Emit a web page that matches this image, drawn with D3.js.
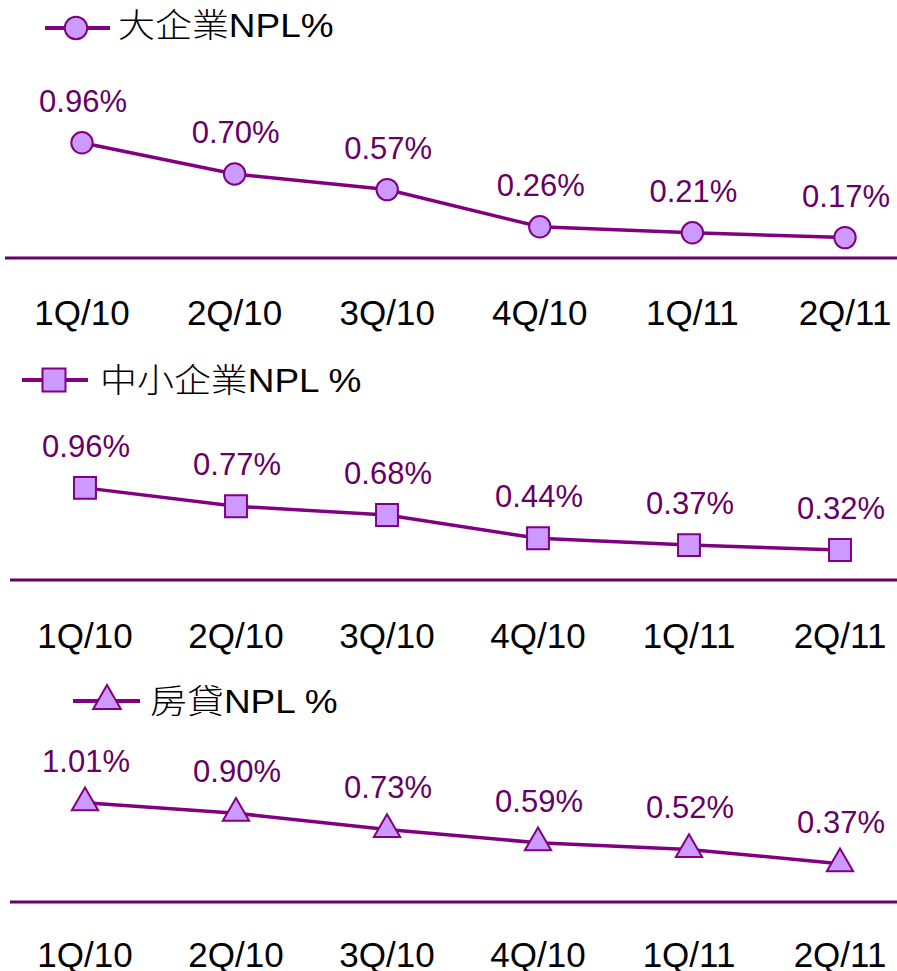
<!DOCTYPE html>
<html>
<head>
<meta charset="utf-8">
<script src="https://cdn.jsdelivr.net/npm/d3@7"></script>
<style>
  body { margin: 0; background: #fff; }
  svg { display: block; }
</style>
</head>
<body>
<svg id="chart"></svg>
<script>
const quarters = ['1Q/10', '2Q/10', '3Q/10', '4Q/10', '1Q/11', '2Q/11'];

const largeNpl = [0.96, 0.70, 0.57, 0.26, 0.21, 0.17];
const smeNpl = [0.96, 0.77, 0.68, 0.44, 0.37, 0.32];
const mortgageNpl = [1.01, 0.90, 0.73, 0.59, 0.52, 0.37];

const seriesNames = [['大企業', 'NPL%'], ['中小企業', 'NPL %'], ['房貸', 'NPL %']];

const width = 897, height = 971;
const lineColor = '#800080';
const markerFill = '#cc99ff';
const labelColor = '#660066';
const latin = 'Arial, "Liberation Sans", sans-serif';
const cjk = '"Noto Sans CJK TC", "Noto Sans CJK SC", sans-serif';

const svg = d3.select('#chart')
  .attr('width', width)
  .attr('height', height);

// layout of each stacked panel
const panels = [
  { values: largeNpl, name: seriesNames[0], marker: d3.symbolCircle, size: 360,
    x0: 82, x1: 845, zero: 258, perUnit: 120, axisY: 258, axisX0: 5, tickY: 325,
    legend: { x0: 45, x1: 110, mx: 76, y: 28, textX: 118, textY: 37 } },
  { values: smeNpl, name: seriesNames[1], marker: d3.symbolSquare, size: 480,
    x0: 85, x1: 840, zero: 581, perUnit: 97, axisY: 580, axisX0: 10, tickY: 648,
    legend: { x0: 22, x1: 88, mx: 54, y: 380, textX: 100, textY: 392 } },
  { values: mortgageNpl, name: seriesNames[2], marker: d3.symbolTriangle, size: 300,
    x0: 85, x1: 840, zero: 899, perUnit: 95.3, axisY: 902, axisX0: 10, tickY: 967,
    legend: { x0: 73, x1: 140, mx: 107, y: 701, textX: 150, textY: 713 } }
];

panels.forEach(p => {
  const g = svg.append('g');

  const x = d3.scalePoint()
    .domain(quarters)
    .range([p.x0, p.x1]);

  const y = d3.scaleLinear()
    .domain([0, 1])
    .range([p.zero, p.zero - p.perUnit]);

  // baseline
  g.append('line')
    .attr('x1', p.axisX0)
    .attr('x2', width)
    .attr('y1', p.axisY)
    .attr('y2', p.axisY)
    .attr('stroke', labelColor)
    .attr('stroke-width', 3);

  // category labels
  g.selectAll('.tick-label')
    .data(quarters)
    .join('text')
    .attr('class', 'tick-label')
    .attr('x', d => x(d))
    .attr('y', p.tickY)
    .attr('text-anchor', 'middle')
    .attr('font-family', latin)
    .attr('font-size', 35)
    .attr('fill', '#000')
    .text(d => d);

  const pts = p.values.map((v, i) => [quarters[i], v]);

  const line = d3.line()
    .x(d => x(d[0]))
    .y(d => y(d[1]));

  g.append('path')
    .datum(pts)
    .attr('fill', 'none')
    .attr('stroke', lineColor)
    .attr('stroke-width', 3.5)
    .attr('d', line);

  const sym = d3.symbol().type(p.marker).size(p.size);

  g.selectAll('.marker')
    .data(pts)
    .join('path')
    .attr('class', 'marker')
    .attr('transform', d => `translate(${x(d[0])},${y(d[1])})`)
    .attr('d', sym)
    .attr('fill', markerFill)
    .attr('stroke', lineColor)
    .attr('stroke-width', 2);

  g.selectAll('.value-label')
    .data(pts)
    .join('text')
    .attr('class', 'value-label')
    .attr('x', d => x(d[0]) + 1)
    .attr('y', d => y(d[1]) - 31)
    .attr('text-anchor', 'middle')
    .attr('font-family', latin)
    .attr('font-size', 31)
    .attr('fill', labelColor)
    .text(d => d3.format('.2f')(d[1]) + '%');

  // legend
  const lg = p.legend;
  g.append('line')
    .attr('x1', lg.x0)
    .attr('x2', lg.x1)
    .attr('y1', lg.y)
    .attr('y2', lg.y)
    .attr('stroke', lineColor)
    .attr('stroke-width', 4);

  g.append('path')
    .attr('transform', `translate(${lg.mx},${lg.y})`)
    .attr('d', d3.symbol().type(p.marker).size(p.size * 1.1))
    .attr('fill', markerFill)
    .attr('stroke', lineColor)
    .attr('stroke-width', 2);

  const t = g.append('text')
    .attr('transform', `translate(${lg.textX},${lg.textY}) scale(1.12,1)`)
    .attr('font-size', 33)
    .attr('fill', '#000');
  t.append('tspan')
    .attr('font-family', cjk)
    .attr('font-weight', 300)
    .text(p.name[0]);
  t.append('tspan')
    .attr('font-family', latin)
    .text(p.name[1]);
});
</script>
</body>
</html>
